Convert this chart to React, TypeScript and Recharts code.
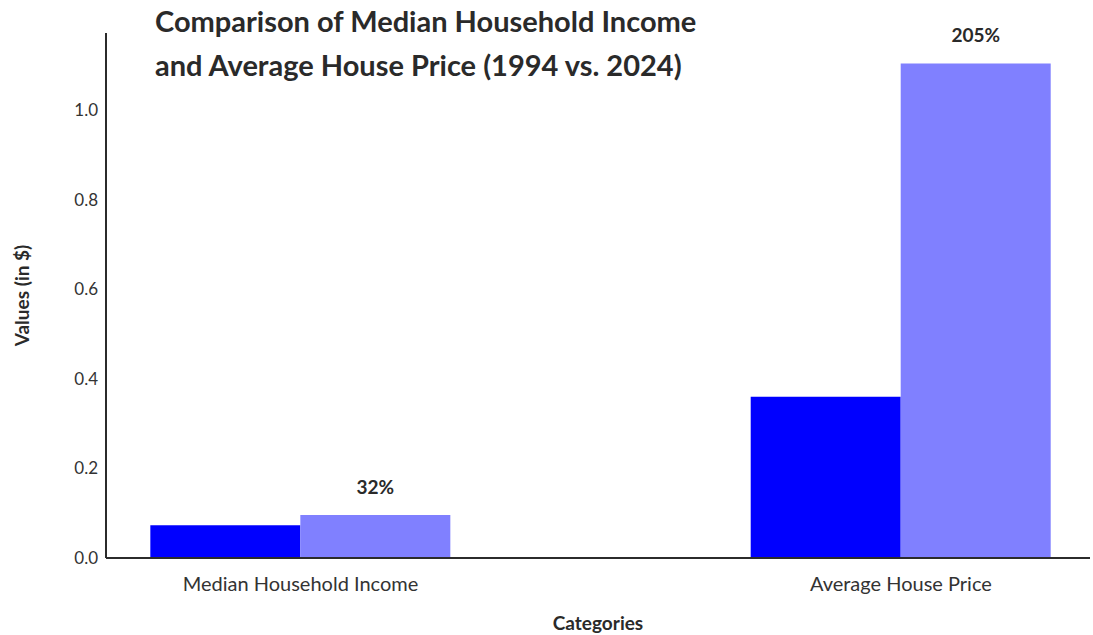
import React from 'react';
import { BarChart, Bar, XAxis, YAxis, LabelList } from 'recharts';

const categories = ['Median Household Income', 'Average House Price'];
const values1994 = [0.073, 0.36];
const values2024 = [0.096, 1.104];
const pctChange = ['32%', '205%'];
const yTicks = [0, 0.2, 0.4, 0.6, 0.8, 1.0];

const data = categories.map((name, i) => ({
  pos: i,
  name,
  v1994: values1994[i],
  v2024: values2024[i],
  change: pctChange[i],
}));

const FONT = 'Lato, "Open Sans", sans-serif';
const TEXT = '#2a2a2a';

const App: React.FC = () => {
  return (
    <div style={{ position: 'absolute', left: 0, top: 0, width: 1093, height: 635, background: '#fff', fontFamily: FONT }}>
      {/* Title */}
      <div
        style={{
          position: 'absolute',
          left: 155,
          top: -1,
          fontSize: 29,
          fontWeight: 700,
          lineHeight: '44px',
          color: TEXT,
          zIndex: 2,
        }}
      >
        Comparison of Median Household Income
        <br />
        and Average House Price (1994 vs. 2024)
      </div>

      <BarChart
        width={1093}
        height={635}
        data={data}
        margin={{ top: 33, right: 3, bottom: 0, left: 0 }}
        barGap={0}
      >
        <XAxis
          dataKey="pos"
          type="number"
          domain={[-0.324, 1.315]}
          ticks={[0, 1]}
          tickFormatter={(v: number) => categories[v] ?? ''}
          height={77}
          tickLine={false}
          tickMargin={13}
          axisLine={{ stroke: '#2b2b2b', strokeWidth: 2 }}
          tick={{ fontSize: 20, fill: '#333', fontFamily: FONT }}
          label={{
            value: 'Categories',
            position: 'insideBottom',
            offset: 5,
            style: { fontSize: 19, fontWeight: 700, fill: TEXT, fontFamily: FONT },
          }}
        />
        <YAxis
          type="number"
          domain={[0, 1.172]}
          ticks={yTicks}
          tickFormatter={(v: number) => v.toFixed(1)}
          width={106}
          tickLine={false}
          axisLine={{ stroke: '#2b2b2b', strokeWidth: 2 }}
          tick={{ fontSize: 17, fill: '#333', fontFamily: FONT }}
          label={{
            value: 'Values (in $)',
            angle: -90,
            position: 'insideLeft',
            offset: 22,
            style: { fontSize: 19, fontWeight: 700, fill: TEXT, fontFamily: FONT, textAnchor: 'middle' },
          }}
        />
        <Bar dataKey="v1994" fill="#0000ff" barSize={150} isAnimationActive={false} />
        <Bar dataKey="v2024" fill="#8080ff" barSize={150} isAnimationActive={false}>
          <LabelList
            dataKey="change"
            position="top"
            offset={21}
            style={{ fontSize: 19, fontWeight: 700, fill: TEXT, fontFamily: FONT }}
          />
        </Bar>
      </BarChart>
    </div>
  );
};

export default App;
